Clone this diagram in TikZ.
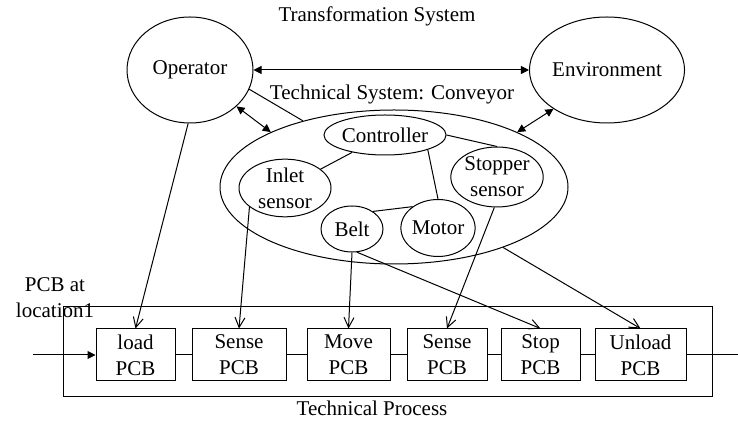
\documentclass[tikz,border=0pt]{standalone}
\usepackage{fontspec}
\setmainfont{Liberation Serif}
\usetikzlibrary{shapes.geometric,arrows.meta}

\begin{document}
\begin{tikzpicture}[x=0.5pt,y=-0.5pt,line width=0.5pt,
        every node/.style={font=\fontsize{10.5}{13}\selectfont},
        blob/.style={draw,ellipse,inner sep=0pt,align=center},
        task/.style={draw,rectangle,inner sep=0pt,minimum height=26pt,align=center},
        both/.style={{Triangle[length=4pt,width=4pt]}-{Triangle[length=4pt,width=4pt]}},
        feed/.style={-{Straight Barb[length=5pt,width=5pt]}}]

        \useasboundingbox (0,0) rectangle (738,421);

        % Define vertices
        \node (title) at (377,16) {Transformation System};
        \node[blob,minimum width=63pt,minimum height=53pt] (oper) at (190,70) {Operator};
        \node[blob,minimum width=70.5pt,minimum height=53pt] (env) at (607,70) {Environment};
        \node (tsys) at (392,94) {Technical System: Conveyor};
        \node[blob,minimum width=174pt,minimum height=77pt] (conv) at (394,187) {};
        \node[blob,minimum width=60pt,minimum height=20pt] (ctrl) at (385,135) {Controller};
        \node[blob,minimum width=46pt,minimum height=27pt] (inlet) at (285,188) {Inlet\\sensor};
        \node[blob,minimum width=46pt,minimum height=30pt] (stopper) at (497,177) {Stopper\\sensor};
        \node[blob,minimum width=31pt,minimum height=23pt] (belt) at (352,229) {Belt};
        \node[blob,minimum width=34.5pt,minimum height=28.5pt] (motor) at (438,228) {Motor};

        \node[align=center] (pcb) at (55,298) {PCB at\\location1};
        \node[draw,rectangle,inner sep=0pt,minimum width=324.5pt,minimum height=45pt] (proc) at (387.5,352) {};
        \node (tproc) at (372,408) {Technical Process};
        \node[task,minimum width=39.5pt] (load) at (135.5,355) {load\\PCB};
        \node[task,minimum width=47pt] (sense1) at (239,355) {Sense\\PCB};
        \node[task,minimum width=41.5pt] (move) at (348.5,355) {Move\\PCB};
        \node[task,minimum width=40pt] (sense2) at (447,355) {Sense\\PCB};
        \node[task,minimum width=39.5pt] (stop) at (540.5,355) {Stop\\PCB};
        \node[task,minimum width=45.5pt] (unload) at (640.5,355) {Unload\\PCB};
        \coordinate (in) at (33,355);
        \coordinate (out) at (738,355);

        % Draw edges
        \path[both]
            (oper.east) edge (env.west)
            (oper.322) edge (conv.156)
            (env.216) edge (conv.24);
        \path[draw]
            (oper.342) edge (conv.144)
            (ctrl) edge (inlet)
            (ctrl.341) edge (motor.north)
            (ctrl.east) edge (stopper.north)
            (belt.40) edge (motor.140);
        \path[feed]
            (oper.268) edge (load.north)
            (inlet.208) edge (sense1.north)
            (belt.south) edge (move.north)
            (belt.282) edge (stop.north)
            (stopper.265) edge (sense2.north)
            (conv.331) edge (unload.north);
        \draw[-{Triangle[length=4pt,width=4pt]}] (in) -- (load.west);
        \draw (load.east) -- (sense1.west)
            (sense1.east) -- (move.west)
            (move.east) -- (sense2.west)
            (sense2.east) -- (stop.west)
            (stop.east) -- (unload.west)
            (unload.east) -- (out);

        \end{tikzpicture}
\end{document}
